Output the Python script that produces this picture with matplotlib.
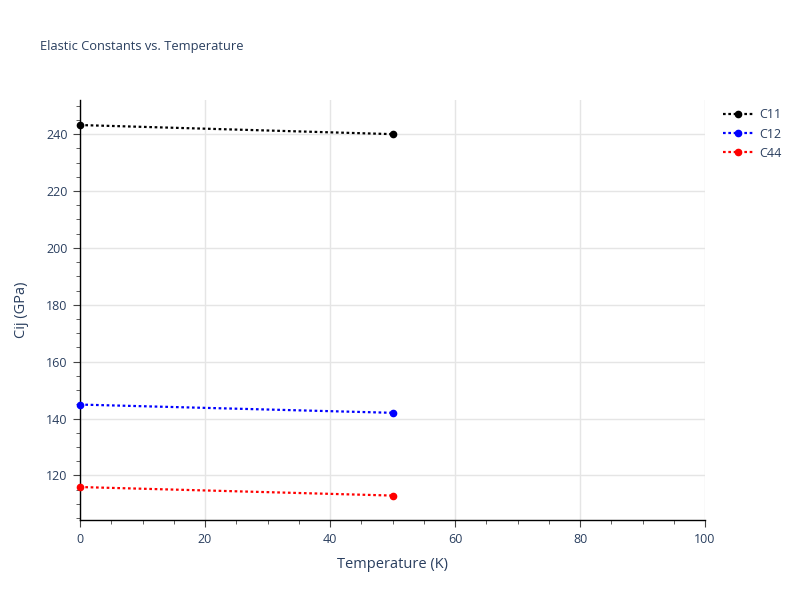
import matplotlib
matplotlib.use("Agg")
import matplotlib.pyplot as plt
from matplotlib.ticker import MultipleLocator

temperature = [0, 50]
c11 = [243.2, 240.0]
c12 = [144.9, 142.0]
c44 = [115.9, 112.9]

series = [("C11", c11, "black"), ("C12", c12, "blue"), ("C44", c44, "red")]

text_color = "#2a3f5f"
plt.rcParams['font.family'] = ['Open Sans', 'DejaVu Sans']

fig = plt.figure(figsize=(8, 6), dpi=100)
ax = fig.add_axes([0.1, 0.1333, 0.78125, 0.7])

for name, vals, col in series:
    ax.plot(temperature, vals, color=col, linestyle=(0, (1.2, 1.2)), linewidth=1.6,
            marker='o', markersize=4.5, label=name, clip_on=False, zorder=3)

ax.set_xlim(0, 100)
ax.set_ylim(104.3, 252)
ax.xaxis.set_major_locator(MultipleLocator(20))
ax.xaxis.set_minor_locator(MultipleLocator(5))
ax.yaxis.set_major_locator(MultipleLocator(20))
ax.yaxis.set_minor_locator(MultipleLocator(5))
ax.grid(True, which='major', color='#e5e5e5', linewidth=1)
ax.set_axisbelow(True)

for s in ['top', 'right']:
    ax.spines[s].set_visible(False)
for s in ['left', 'bottom']:
    ax.spines[s].set_color('black')
    ax.spines[s].set_linewidth(1)

ax.tick_params(which='major', length=5, color='#444444', labelsize=9, labelcolor=text_color, pad=4)
ax.tick_params(which='minor', length=3, color='#444444')

ax.set_xlabel('Temperature (K)', fontsize=10.5, color=text_color, labelpad=8)
ax.set_ylabel('Cij (GPa)', fontsize=10.5, color=text_color, labelpad=12)

fig.text(0.05, 0.923, 'Elastic Constants vs. Temperature', fontsize=9.3, color=text_color, va='center')

ax.legend(loc='upper left', bbox_to_anchor=(1.01, 1.007), frameon=False, fontsize=9,
          labelcolor=text_color, handlelength=2.4, handletextpad=0.5, labelspacing=0.5)

fig.savefig('out.png', dpi=100)
